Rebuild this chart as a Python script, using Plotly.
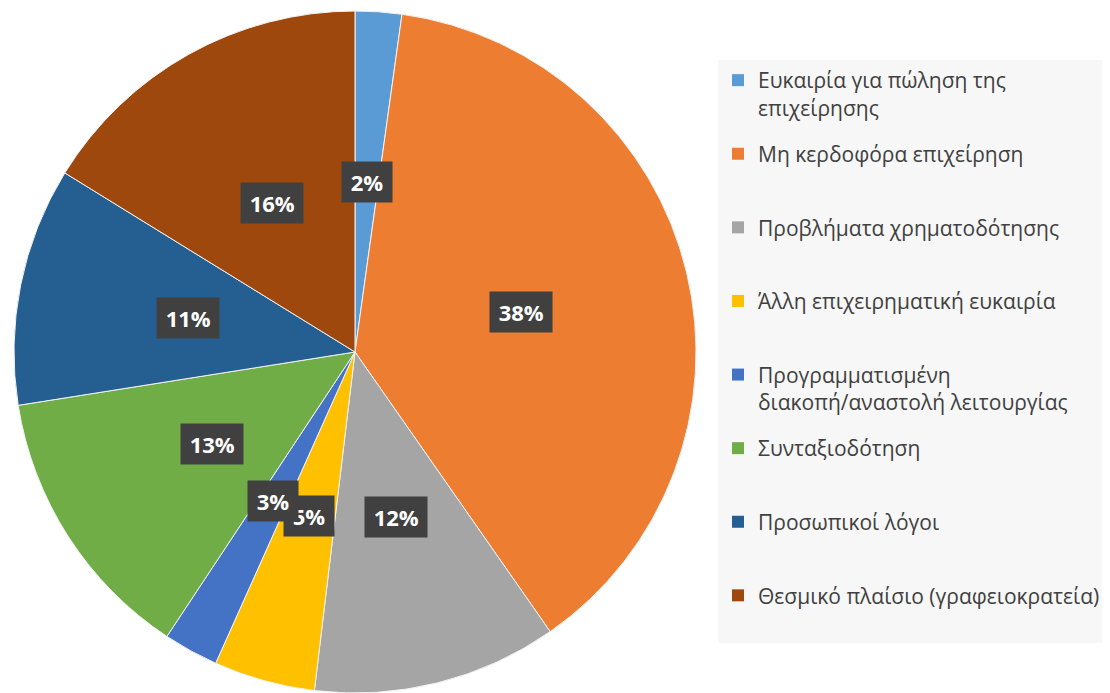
import math
import plotly.graph_objects as go

categories = [
    "Ευκαιρία για πώληση της<br>επιχείρησης",
    "Μη κερδοφόρα επιχείρηση",
    "Προβλήματα χρηματοδότησης",
    "Άλλη επιχειρηματική ευκαιρία",
    "Προγραμματισμένη<br>διακοπή/αναστολή λειτουργίας",
    "Συνταξιοδότηση",
    "Προσωπικοί λόγοι",
    "Θεσμικό πλαίσιο (γραφειοκρατεία)",
]
values = [2.2, 38.1, 11.6, 4.8, 2.6, 13.2, 11.3, 16.2]
colors = ["#5B9BD5", "#ED7D31", "#A5A5A5", "#FFC000",
          "#4472C4", "#70AD47", "#255E91", "#9E480E"]

W, H = 1110, 693
OFF = 8  # page body margin offset

# target pie geometry (screen pixels)
PCX, PCY, PR = 355, 352, 341
fcx, fcy = PCX - OFF, PCY - OFF
dom_x = [(fcx - PR) / W, (fcx + PR) / W]
dom_y = [1 - (fcy + PR) / H, 1 - (fcy - PR) / H]

fig = go.Figure()
fig.add_trace(go.Pie(
    labels=[c.replace("<br>", " ") for c in categories],
    values=values,
    sort=False,
    direction="clockwise",
    rotation=0,
    textinfo="none",
    showlegend=False,
    marker=dict(colors=colors, line=dict(color="#F2F2F2", width=1)),
    domain=dict(x=dom_x, y=dom_y),
    hovertemplate="%{label}: %{percent}<extra></extra>",
))

# legend entries (each padded to two lines for even spacing)
for i, (c, col) in enumerate(zip(categories, colors)):
    n = c.count("<br>") + 1
    txt = c + "<br>\u00a0" * (2 - n)
    fig.add_trace(go.Scatter(
        x=[None], y=[None], mode="markers", name=txt,
        legendgroup="g%d" % i,
        marker=dict(symbol="square", size=12, color=col),
        hoverinfo="skip",
    ))

# data labels at half radius, mid-angle of each slice
cx = (dom_x[0] + dom_x[1]) / 2 * W
cy = (1 - (dom_y[0] + dom_y[1]) / 2) * H
R = min((dom_x[1] - dom_x[0]) * W, (dom_y[1] - dom_y[0]) * H) / 2
total = sum(values)
cum = 0
annotations = []
for v in values:
    mid = (cum + v / 2) / total
    cum += v
    th = 2 * math.pi * mid
    px = cx + 0.5 * R * math.sin(th)
    py = cy - 0.5 * R * math.cos(th)
    annotations.append(dict(
        x=px / W, y=1 - py / H, xref="paper", yref="paper",
        xanchor="center", yanchor="middle",
        text="<b>\u2009%d%%\u2009</b>" % round(v / total * 100),
        showarrow=False,
        font=dict(family="Open Sans", size=22, color="white"),
        bgcolor="#404040", borderpad=5,
    ))

fig.update_layout(
    width=W, height=H,
    margin=dict(l=0, r=0, t=0, b=0),
    paper_bgcolor="white",
    plot_bgcolor="white",
    xaxis=dict(visible=False),
    yaxis=dict(visible=False),
    annotations=annotations,
    showlegend=True,
    legend=dict(
        x=(718 - OFF) / W, xanchor="left", y=1 - (60 - OFF) / H, yanchor="top",
        bgcolor="#F7F7F7", borderwidth=0,
        valign="top",
        tracegroupgap=16,
        font=dict(family="Open Sans", size=21, color="#404040"),
        traceorder="grouped",
    ),
)

fig.write_html("out.html")
